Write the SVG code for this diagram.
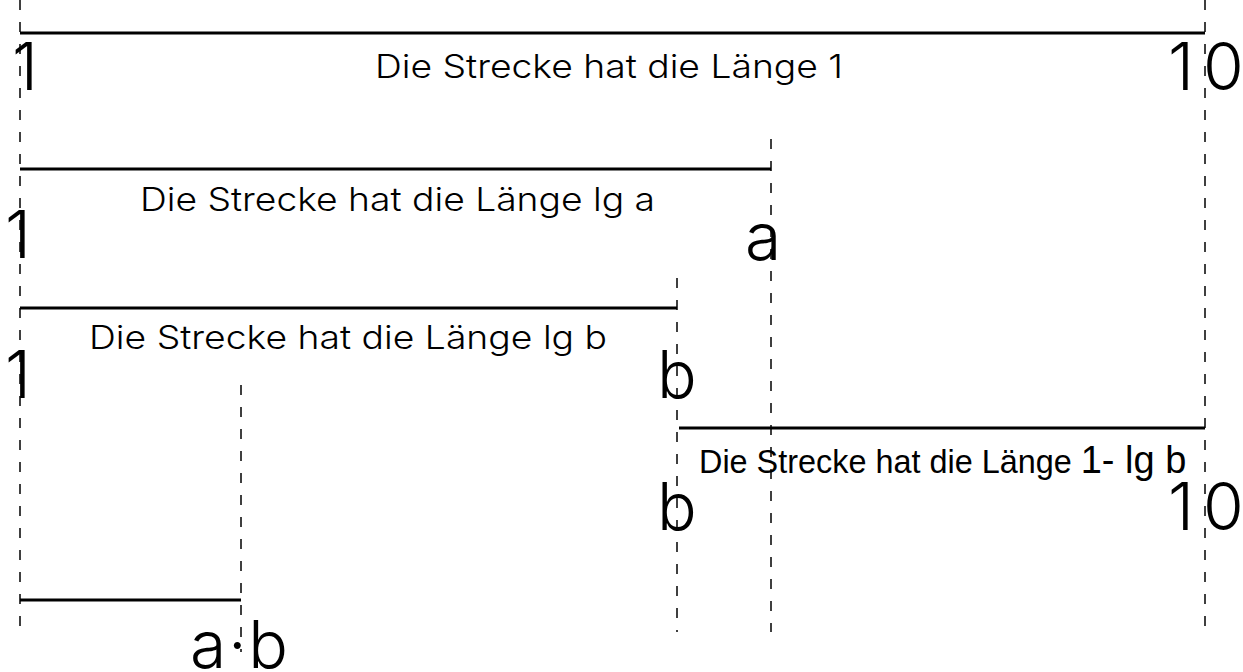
<svg xmlns="http://www.w3.org/2000/svg" width="1243" height="672" viewBox="0 0 1243 672">
  <style>
    .guide { stroke: #000; stroke-width: 1.5; stroke-dasharray: 10 12; fill: none; }
    .seg { stroke: #000; stroke-width: 3; fill: none; }
    .light { font-family: Inter, Roboto, "Liberation Sans", sans-serif; font-weight: 300; fill: #000; }
    .cap { font-size: 33px; }
    .big { font-size: 66px; }
    .reg { font-family: "Liberation Sans", Arial, sans-serif; font-weight: 400; fill: #000; }
  </style>
  <rect width="1243" height="672" fill="#fff"/>

  <!-- dashed guide lines and measured segments -->
  <g id="connectors">
    <line class="guide" x1="20" y1="0" x2="20" y2="636"/>
    <line class="guide" x1="1205" y1="0" x2="1205" y2="636"/>
    <line class="guide" x1="771" y1="139" x2="771" y2="632"/>
    <line class="guide" x1="677" y1="278" x2="677" y2="632"/>
    <line class="guide" x1="241" y1="385" x2="241" y2="652"/>

    <line class="seg" x1="20" y1="33" x2="1205" y2="33"/>
    <line class="seg" x1="20" y1="169" x2="771" y2="169"/>
    <line class="seg" x1="20" y1="308" x2="677" y2="308"/>
    <line class="seg" x1="679" y1="428" x2="1205" y2="428"/>
    <line class="seg" x1="20" y1="600" x2="241" y2="600"/>
  </g>

  <!-- segment captions -->
  <g id="caption-1">
    <text class="light cap" x="375" y="78" textLength="468" lengthAdjust="spacingAndGlyphs">Die Strecke hat die Länge 1</text>
  </g>
  <g id="caption-lg-a">
    <text class="light cap" x="140" y="211" textLength="515" lengthAdjust="spacingAndGlyphs">Die Strecke hat die Länge lg a</text>
  </g>
  <g id="caption-lg-b">
    <text class="light cap" x="89" y="349" textLength="518" lengthAdjust="spacingAndGlyphs">Die Strecke hat die Länge lg b</text>
  </g>
  <g id="caption-1-lg-b">
    <text class="reg" x="699" y="473" font-size="32.4">Die Strecke hat die Länge <tspan font-size="38">1- lg b</tspan></text>
  </g>

  <!-- scale marks -->
  <g id="mark-1-top"><text class="light big" x="12" y="90">1</text></g>
  <g id="mark-10-top"><text class="light big" x="1168" y="90">1<tspan dx="9">0</tspan></text></g>
  <g id="mark-1-a"><text class="light big" x="5" y="258">1</text></g>
  <g id="mark-a"><text class="light big" x="745" y="260" font-size="69">a</text></g>
  <g id="mark-1-b"><text class="light big" x="5" y="398">1</text></g>
  <g id="mark-b-upper"><text class="light big" x="657" y="398">b</text></g>
  <g id="mark-b-lower"><text class="light big" x="657" y="530">b</text></g>
  <g id="mark-10-lower"><text class="light big" x="1168" y="530">1<tspan dx="9">0</tspan></text></g>
  <g id="mark-ab"><text class="light big" x="190" y="668" textLength="98" lengthAdjust="spacing">a·b</text></g>
</svg>
